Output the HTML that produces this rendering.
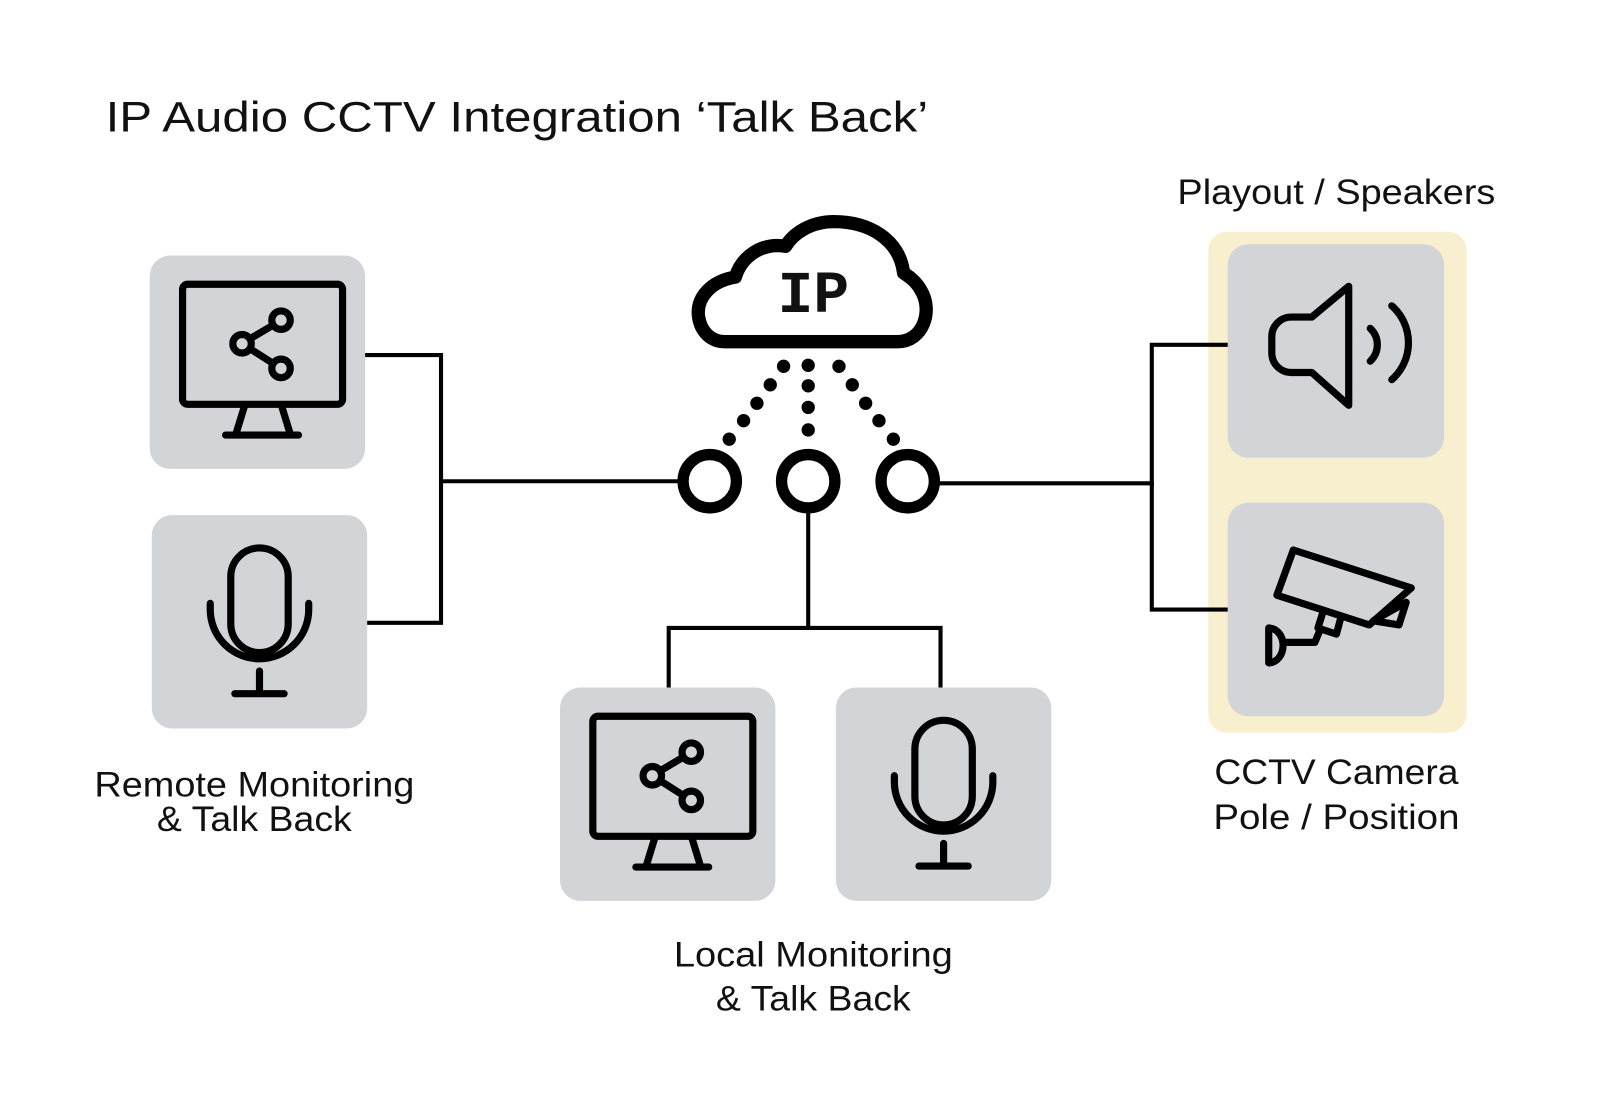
<!DOCTYPE html>
<html><head><meta charset="utf-8"><style>
html,body{margin:0;padding:0;background:#fff;width:1600px;height:1100px;overflow:hidden}
svg{display:block}
text{font-family:"Liberation Sans",sans-serif;fill:#111}
</style></head><body>
<svg width="1600" height="1100" viewBox="0 0 1560 1072" preserveAspectRatio="none" xmlns="http://www.w3.org/2000/svg">
<defs>
<g id="mon" fill="none" stroke="#000" stroke-width="7" stroke-linecap="round" stroke-linejoin="round">
<rect x="32" y="28" width="156" height="117" rx="5"/>
<line x1="92" y1="148" x2="84" y2="174"/><line x1="129" y1="148" x2="137" y2="174"/>
<line x1="74" y1="175" x2="145" y2="175"/>
<circle cx="128" cy="63" r="9"/><circle cx="90" cy="86" r="9"/><circle cx="128" cy="110" r="9"/>
<line x1="120" y1="68" x2="98" y2="81"/><line x1="98" y1="91" x2="120" y2="105"/>
</g>
<g id="mic" fill="none" stroke="#000" stroke-width="7" stroke-linecap="round">
<rect x="77" y="32" width="56" height="102" rx="28"/>
<path d="M57 86 v6 a48 48 0 0 0 96 0 v-6"/>
<line x1="105" y1="152" x2="105" y2="173"/><line x1="81" y1="174" x2="129" y2="174"/>
</g>
</defs>
<g transform="translate(-2,-2)">
<text x="105" y="130" font-size="42" textLength="802" lengthAdjust="spacingAndGlyphs">IP Audio CCTV Integration ‘Talk Back’</text>

<rect x="148" y="251" width="210" height="208" rx="20" fill="#d3d4d8"/>
<rect x="150" y="504" width="210" height="208" rx="20" fill="#d3d4d8"/>
<use href="#mon" x="148" y="251"/>
<use href="#mic" x="150" y="504"/>
<text x="250" y="778" font-size="34" text-anchor="middle" textLength="312" lengthAdjust="spacingAndGlyphs">Remote Monitoring</text>
<text x="250" y="812" font-size="34" text-anchor="middle" textLength="190" lengthAdjust="spacingAndGlyphs">&amp; Talk Back</text>
<polyline points="358,348 432,348 432,609 360,609" fill="none" stroke="#000" stroke-width="4"/>
</g>

<g transform="translate(-5,-2)">
<rect x="551" y="672" width="210" height="208" rx="20" fill="#d3d4d8"/>
<rect x="820" y="672" width="210" height="208" rx="20" fill="#d3d4d8"/>
<use href="#mon" x="551" y="672"/>
<use href="#mic" x="820" y="672"/>
<g fill="none" stroke="#000" stroke-width="4">
<line x1="434" y1="471" x2="668" y2="471"/>
<line x1="920" y1="473" x2="1130" y2="473"/>
<line x1="793" y1="502" x2="793" y2="614"/>
<polyline points="657,672 657,614 922,614 922,672"/>
</g>
<g fill="none" stroke="#000" stroke-width="11">
<circle cx="697" cy="471" r="26"/><circle cx="793" cy="471" r="26"/><circle cx="890" cy="471" r="26"/>
</g>
<g fill="#000">
<circle cx="769" cy="359" r="6.5"/><circle cx="756" cy="377" r="6.5"/><circle cx="743" cy="395" r="6.5"/><circle cx="730" cy="412" r="6.5"/><circle cx="716" cy="430" r="6.5"/>
<circle cx="793" cy="358" r="6.5"/><circle cx="793" cy="378" r="6.5"/><circle cx="793" cy="399" r="6.5"/><circle cx="793" cy="421" r="6.5"/>
<circle cx="823" cy="359" r="6.5"/><circle cx="836" cy="377" r="6.5"/><circle cx="849" cy="395" r="6.5"/><circle cx="862" cy="412" r="6.5"/><circle cx="876" cy="430" r="6.5"/>
</g>
<path d="M712 335 H880 C905 335 915 305 903 285 C898 276 892 272 886 268 C882 235 852 218 818 218 C795 218 778 230 771 242 C748 238 728 252 722 272 C698 276 684 292 686 310 C688 326 699 335 712 335 Z" fill="#fff" stroke="#000" stroke-width="13" stroke-linejoin="round"/>
<text x="798" y="306" font-size="58" font-weight="bold" text-anchor="middle" style="font-family:'Liberation Mono',monospace">IP</text>
<text x="798" y="944" font-size="34" text-anchor="middle" textLength="272" lengthAdjust="spacingAndGlyphs">Local Monitoring</text>
<text x="798" y="987" font-size="34" text-anchor="middle" textLength="190" lengthAdjust="spacingAndGlyphs">&amp; Talk Back</text>
</g>

<g transform="translate(-7,-2)">
<text x="1155" y="201" font-size="34" textLength="310" lengthAdjust="spacingAndGlyphs">Playout / Speakers</text>
<rect x="1185" y="228" width="252" height="488" rx="18" fill="#f8efcf"/>
<rect x="1204" y="240" width="211" height="208" rx="20" fill="#d3d4d8"/>
<rect x="1204" y="492" width="211" height="208" rx="20" fill="#d3d4d8"/>
<polyline points="1204,338 1130,338 1130,596 1204,596" fill="none" stroke="#000" stroke-width="4"/>
<g fill="none" stroke="#000" stroke-width="7" stroke-linecap="round" stroke-linejoin="round">
<path d="M1266 311 H1286 L1322 281 V397 L1286 365 H1266 A19 19 0 0 1 1247 346 V330 A19 19 0 0 1 1266 311 Z"/>
<path d="M1343 322 A22 22 0 0 1 1343 354"/>
<path d="M1364 300 A48 48 0 0 1 1364 372"/>
<path d="M1268 538 L1383 575 L1342 611 L1252 582 Z"/>
<path d="M1346 607 L1378 589 L1371 611 Z"/>
<path d="M1297 598 L1292 614 L1310 620 L1314 605"/>
<path d="M1294 616 L1289 628 L1260 628"/>
<path d="M1244 614 V648 A14 17 0 0 0 1244 614 Z"/>
</g>
<text x="1310" y="766" font-size="34" text-anchor="middle" textLength="238" lengthAdjust="spacingAndGlyphs">CCTV Camera</text>
<text x="1310" y="810" font-size="34" text-anchor="middle" textLength="240" lengthAdjust="spacingAndGlyphs">Pole / Position</text>
</g>
</svg>
</body></html>
